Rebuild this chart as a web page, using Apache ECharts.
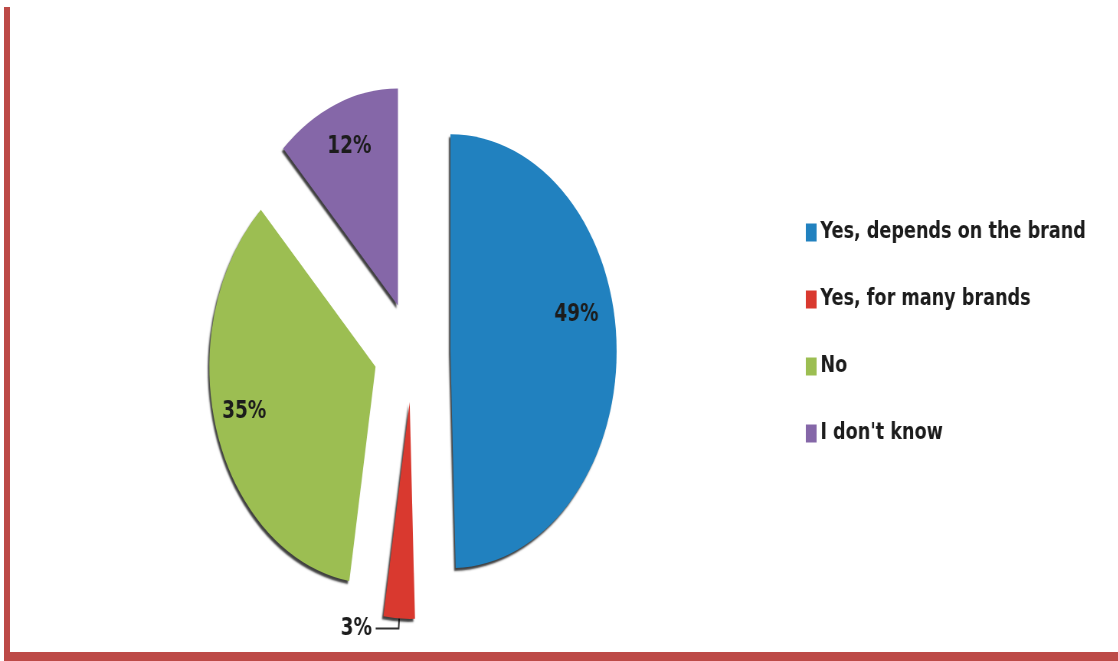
<!DOCTYPE html>
<html>
<head>
<meta charset="utf-8">
<title>Brand survey</title>
<script src="https://cdn.jsdelivr.net/npm/echarts@6/dist/echarts.min.js"></script>
<style>
  html, body { margin: 0; padding: 0; background: #ffffff; }
  #frame { position: absolute; left: 0; top: 0; width: 1118px; height: 661px; overflow: hidden; background: #ffffff; }
  /* the whole chart is drawn wide and then squeezed horizontally */
  #chart { position: absolute; left: 0; top: 0; width: 1459px; height: 661px; transform: scaleX(0.766); transform-origin: 0 0; }
  .edge { position: absolute; background: #bd4a47; }
</style>
</head>
<body>
<div id="frame">
  <div id="chart"></div>
  <div class="edge" style="left:4px; top:7px; width:6px; height:654px;"></div>
  <div class="edge" style="left:4px; top:652px; width:1114px; height:9px;"></div>
</div>
<script>
// Survey answers and their shares (%)
const categories = ['Yes, depends on the brand', 'Yes, for many brands', 'No', "I don't know"];
const shares = [49, 3, 35, 12];
const colors = ['#2181bf', '#d9392f', '#9cbe52', '#8567a8'];

// nudges for the percentage labels, in chart units
const labelShift = [[53, -35], [0, 0], [-65, 12], [-22, -55]];

const chart = echarts.init(document.getElementById('chart'), null, { renderer: 'canvas' });

const pieData = categories.map((name, i) => ({
  name: name,
  value: shares[i],
  selected: true,
  itemStyle: { color: colors[i] },
  label: i === 1 ? { position: 'outside' } : { position: 'inside' }
}));

chart.setOption({
  animation: false,
  backgroundColor: '#ffffff',
  legend: {
    orient: 'vertical',
    left: 1047,
    top: 216,
    itemWidth: 14,
    itemHeight: 18,
    itemGap: 44,
    icon: 'rect',
    selectedMode: false,
    data: categories,
    textStyle: {
      fontFamily: 'DejaVu Sans',
      fontWeight: 'bold',
      fontSize: 23,
      color: '#1c1c1c',
      padding: [0, 0, 0, 0]
    }
  },
  series: [{
    type: 'pie',
    center: [538, 352],
    radius: 217,
    startAngle: 90,
    clockwise: true,
    selectedMode: 'multiple',
    selectedOffset: 50,
    avoidLabelOverlap: false,
    emphasis: { disabled: true },
    select: { itemStyle: { borderWidth: 0 } },
    itemStyle: {
      shadowColor: 'rgba(0,0,0,0.75)',
      shadowBlur: 2,
      shadowOffsetX: -2,
      shadowOffsetY: 3
    },
    label: {
      formatter: '{c}%',
      fontFamily: 'DejaVu Sans',
      fontWeight: 'bold',
      fontSize: 24,
      color: '#1c1c1c'
    },
    labelLine: {
      show: true,
      length: 10,
      length2: 30,
      lineStyle: { color: '#333333', width: 2 }
    },
    labelLayout: function (params) {
      const s = labelShift[params.dataIndex];
      return { dx: s[0], dy: s[1] };
    },
    data: pieData
  }]
});
</script>
</body>
</html>
